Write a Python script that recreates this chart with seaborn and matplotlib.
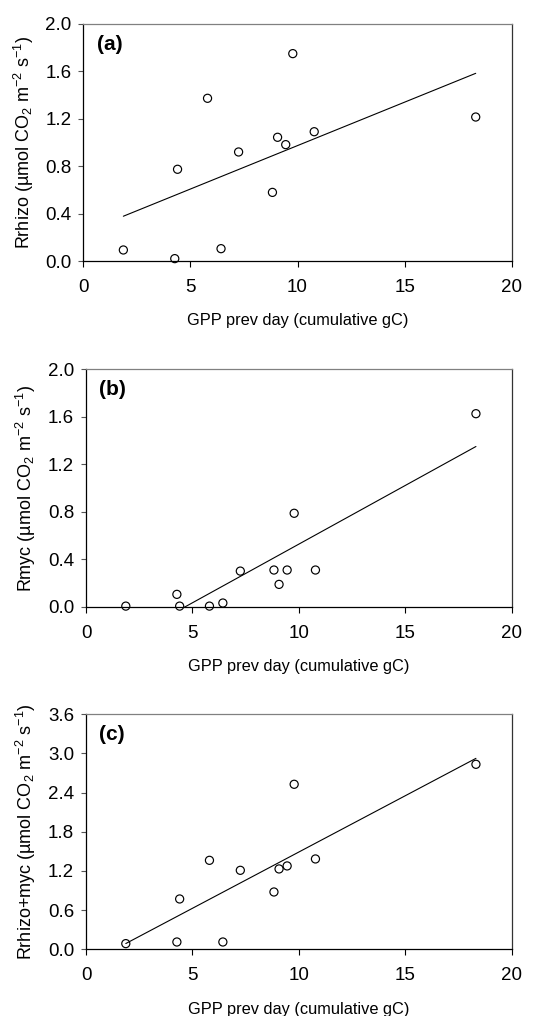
import matplotlib
matplotlib.use("Agg")
import matplotlib.pyplot as plt
import seaborn as sns
import numpy as np

# ---- data ----
gpp_prev_day = [1.87, 4.27, 4.40, 5.80, 6.43, 7.25, 8.83, 9.07, 9.45, 9.78, 10.78, 18.32]
r_rhizo = [0.093, 0.02, 0.774, 1.373, 0.104, 0.92, 0.579, 1.044, 0.982, 1.75, 1.091, 1.215]
r_myc = [0.005, 0.104, 0.005, 0.005, 0.031, 0.30, 0.309, 0.188, 0.309, 0.787, 0.309, 1.626]
r_total = [0.087, 0.112, 0.771, 1.363, 0.112, 1.210, 0.878, 1.231, 1.277, 2.528, 1.384, 2.834]

panel_letters = ["(a)", "(b)", "(c)"]
y_names = ["Rrhizo", "Rmyc", "Rrhizo+myc"]
y_series = [r_rhizo, r_myc, r_total]
y_limits = [(0, 2.0), (0, 2.0), (0, 3.6)]
y_steps = [0.4, 0.4, 0.6]
x_ticks = [0, 5, 10, 15, 20]
x_label = "GPP prev day (cumulative gC)"

sns.set_style("ticks")
plt.rcParams["font.family"] = ["Liberation Sans", "DejaVu Sans"]
plt.rcParams["mathtext.fontset"] = "custom"
plt.rcParams["mathtext.rm"] = "Liberation Sans"
plt.rcParams["mathtext.it"] = "Liberation Sans:italic"
plt.rcParams["mathtext.bf"] = "Liberation Sans:bold"
plt.rcParams["mathtext.default"] = "regular"
plt.rcParams["text.color"] = "black"
plt.rcParams["axes.labelcolor"] = "black"
plt.rcParams["xtick.color"] = "black"
plt.rcParams["ytick.color"] = "black"

fig = plt.figure(figsize=(5.33, 10.16), dpi=100)
W, H = 533.0, 1016.0
boxes = [(83.3, 511.7, 24.0, 261.0), (86.0, 511.7, 369.3, 606.7), (86.0, 511.7, 714.3, 949.3)]

for i in range(3):
    l, r, t, b = boxes[i]
    ax = fig.add_axes([l / W, 1 - b / H, (r - l) / W, (b - t) / H])
    sns.regplot(x=np.array(gpp_prev_day), y=np.array(y_series[i]), ax=ax, ci=None,
                color="black", marker="o",
                scatter_kws=dict(facecolors="none", edgecolors="black", s=34,
                                 linewidths=0.85, alpha=1, clip_on=False, zorder=3),
                line_kws=dict(color="black", lw=0.8))
    ax.set_xlim(0, 20)
    lo, hi = y_limits[i]
    ax.set_ylim(lo, hi)
    ax.set_xticks(x_ticks)
    ax.set_yticks(np.round(np.arange(lo, hi + 1e-9, y_steps[i]), 1))
    ax.yaxis.set_major_formatter(matplotlib.ticker.FormatStrFormatter("%.1f"))
    ax.tick_params(axis="both", labelsize=13.5, direction="out", width=0.8,
                   labelcolor="black")
    ax.tick_params(axis="x", length=4.5, pad=8.5, color="black")
    ax.tick_params(axis="y", length=3.5, pad=5, color="#555555")
    for side in ["left", "bottom", "top", "right"]:
        ax.spines[side].set_visible(True)
        ax.spines[side].set_linewidth(0.9)
    ax.spines["left"].set_color("black")
    ax.spines["bottom"].set_color("black")
    ax.spines["top"].set_color("#808080")
    ax.spines["right"].set_color("#333333")
    ax.set_xlabel(x_label, fontsize=11.8, labelpad=12.5)
    ax.set_ylabel(y_names[i] + r" (µmol CO$_2$ m$^{-2}$ s$^{-1}$)", fontsize=13, labelpad=7)
    ax.text(0.031, 0.955, panel_letters[i], transform=ax.transAxes, fontsize=15,
            fontweight="bold", ha="left", va="top")

fig.savefig("out.png", dpi=100)
